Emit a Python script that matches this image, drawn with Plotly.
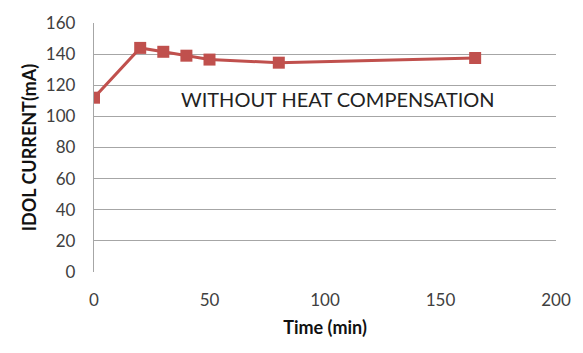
import plotly.graph_objects as go

time_min = [0, 20, 30, 40, 50, 80, 165]
idol_current = [112, 144, 141.5, 139, 136.5, 134.5, 137.5]
x_ticks = [0, 50, 100, 150, 200]
y_ticks = [0, 20, 40, 60, 80, 100, 120, 140, 160]

red = "#C0504D"
fig = go.Figure()
fig.add_trace(go.Scatter(
    x=time_min, y=idol_current, mode="lines+markers",
    line=dict(color=red, width=3),
    marker=dict(symbol="square", size=12, color=red),
    showlegend=False,
))
fig.add_annotation(
    x=105.5, y=111, xref="x", yref="y", text="WITHOUT HEAT COMPENSATION",
    showarrow=False, font=dict(family="Lato", size=20, color="#222222"),
)
fig.update_layout(
    width=583, height=353,
    margin=dict(l=94, r=21, t=22, b=81),
    paper_bgcolor="white", plot_bgcolor="white",
    font=dict(family="Lato", color="#404040"),
)
fig.update_xaxes(
    range=[0, 200], tickvals=x_ticks, showgrid=False, zeroline=False,
    showline=False, ticks="", tickfont=dict(size=17, color="#404040"),
    ticklabelstandoff=16,
    title=dict(text="<b>Time (min)</b>", font=dict(size=18, color="#111111"), standoff=12),
)
fig.update_yaxes(
    range=[0, 160], tickvals=y_ticks, showgrid=True, gridcolor="#A6A6A6", gridwidth=1.3,
    zeroline=False, showline=True, linecolor="#A6A6A6", linewidth=1.3,
    ticks="", tickfont=dict(size=17, color="#404040"), ticklabelstandoff=14,
    title=dict(text="<b>IDOL CURRENT(mA)</b>", font=dict(size=18, color="#111111"), standoff=4),
)
fig.write_html("out.html")
